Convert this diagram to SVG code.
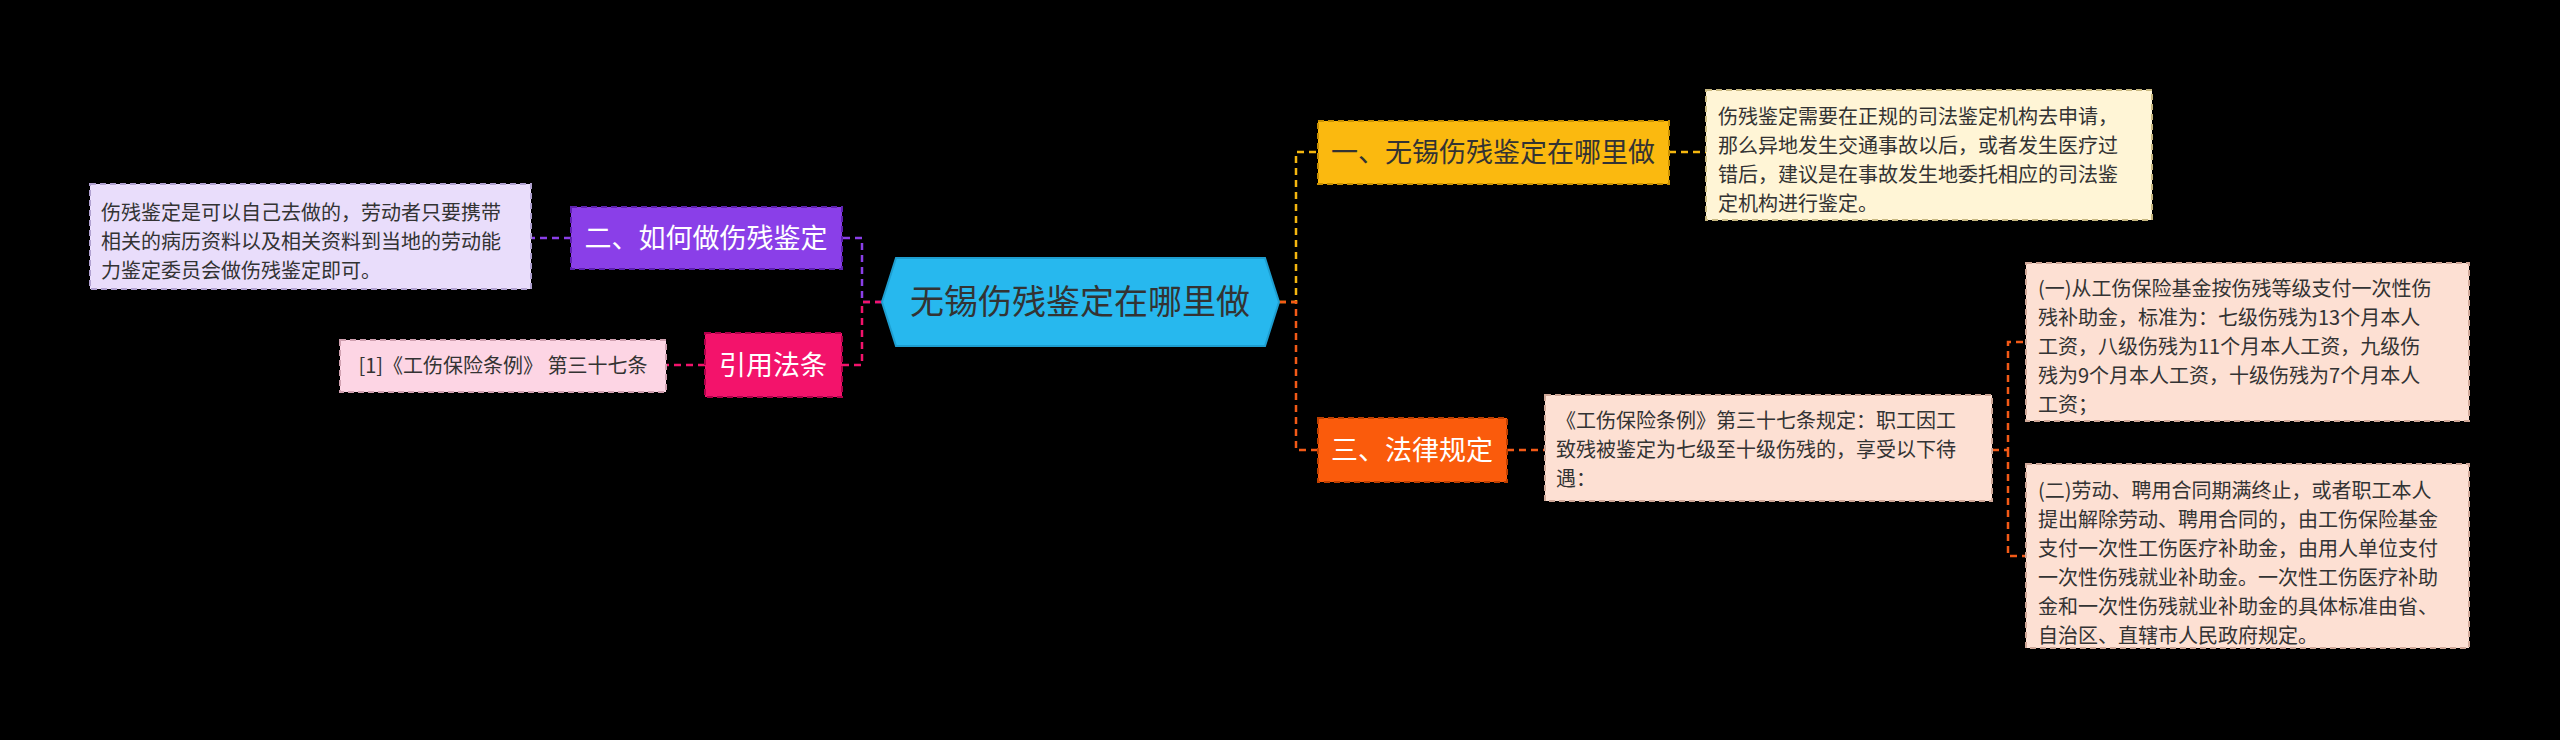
<svg xmlns="http://www.w3.org/2000/svg" width="2560" height="740" viewBox="0 0 2560 740">
<style>
text{font-family:"Noto Sans CJK SC","Liberation Sans",sans-serif}
.t{font-size:20px;fill:#333}
.b{font-size:27px;fill:#fff}
.c{fill:none;stroke-width:2.5;stroke-dasharray:7 5}
.bx{stroke-width:2;stroke-dasharray:6 4}
</style>
<rect width="2560" height="740" fill="#000"/>
<g id="connectors">
<path class="c" stroke="#F5B70F" d="M1279 302H1296V152H1318"/>
<path class="c" stroke="#F35A17" d="M1279 302H1296V450H1318"/>
<path class="c" stroke="#F5B70F" d="M1669 152H1706"/>
<path class="c" stroke="#F35A17" d="M1507 450H1545"/>
<path class="c" stroke="#F35A17" d="M1992 450H2008V342H2026M2008 450V556H2026"/>
<path class="c" stroke="#8A3FE8" d="M882 302H862V238H842"/>
<path class="c" stroke="#F3136B" d="M882 302H862V365H842"/>
<path class="c" stroke="#8A3FE8" d="M571 238H531"/>
<path class="c" stroke="#F3136B" d="M705 365H666"/>
</g>
<g id="center">
<polygon points="896,258 1265,258 1279,302 1265,346 896,346 882,302" fill="#27B8EE" stroke="#1E9ED0" stroke-width="2"/>
<text x="1080" y="314" font-size="34" fill="#333" text-anchor="middle">无锡伤残鉴定在哪里做</text>
</g>
<g id="n1">
<rect class="bx" x="1318" y="121" width="351" height="63" fill="#FBB90F" stroke="#C99000"/>
<text class="b" x="1493" y="162" text-anchor="middle" fill="#333" style="fill:#333">一、无锡伤残鉴定在哪里做</text>
</g>
<g id="n1t">
<rect class="bx" x="1706" y="90" width="446" height="130" fill="#FFF5D6" stroke="#C8B880"/>
<text class="t" x="1718" y="124">伤残鉴定需要在正规的司法鉴定机构去申请，</text>
<text class="t" x="1718" y="153">那么异地发生交通事故以后，或者发生医疗过</text>
<text class="t" x="1718" y="182">错后，建议是在事故发生地委托相应的司法鉴</text>
<text class="t" x="1718" y="211">定机构进行鉴定。</text>
</g>
<g id="n3">
<rect class="bx" x="1318" y="418" width="189" height="64" fill="#FA5B0C" stroke="#C04000"/>
<text class="b" x="1412" y="460" text-anchor="middle">三、法律规定</text>
</g>
<g id="n3t">
<rect class="bx" x="1545" y="395" width="447" height="106" fill="#FDE0D3" stroke="#D0A898"/>
<text class="t" x="1556" y="428">《工伤保险条例》第三十七条规定：职工因工</text>
<text class="t" x="1556" y="457">致残被鉴定为七级至十级伤残的，享受以下待</text>
<text class="t" x="1556" y="486">遇：</text>
</g>
<g id="n31">
<rect class="bx" x="2026" y="263" width="443" height="158" fill="#FDE0D3" stroke="#D0A898"/>
<text class="t" x="2038" y="296">(一)从工伤保险基金按伤残等级支付一次性伤</text>
<text class="t" x="2038" y="325">残补助金，标准为：七级伤残为13个月本人</text>
<text class="t" x="2038" y="354">工资，八级伤残为11个月本人工资，九级伤</text>
<text class="t" x="2038" y="383">残为9个月本人工资，十级伤残为7个月本人</text>
<text class="t" x="2038" y="412">工资；</text>
</g>
<g id="n32">
<rect class="bx" x="2026" y="464" width="443" height="184" fill="#FDE0D3" stroke="#D0A898"/>
<text class="t" x="2038" y="498">(二)劳动、聘用合同期满终止，或者职工本人</text>
<text class="t" x="2038" y="527">提出解除劳动、聘用合同的，由工伤保险基金</text>
<text class="t" x="2038" y="556">支付一次性工伤医疗补助金，由用人单位支付</text>
<text class="t" x="2038" y="585">一次性伤残就业补助金。一次性工伤医疗补助</text>
<text class="t" x="2038" y="614">金和一次性伤残就业补助金的具体标准由省、</text>
<text class="t" x="2038" y="643">自治区、直辖市人民政府规定。</text>
</g>
<g id="n2">
<rect class="bx" x="571" y="207" width="271" height="62" fill="#8A3FE8" stroke="#5E20B0"/>
<text class="b" x="706" y="248" text-anchor="middle">二、如何做伤残鉴定</text>
</g>
<g id="n2t">
<rect class="bx" x="90" y="184" width="441" height="105" fill="#E9DDFB" stroke="#B0A0D0"/>
<text class="t" x="101" y="220">伤残鉴定是可以自己去做的，劳动者只要携带</text>
<text class="t" x="101" y="249">相关的病历资料以及相关资料到当地的劳动能</text>
<text class="t" x="101" y="278">力鉴定委员会做伤残鉴定即可。</text>
</g>
<g id="n4">
<rect class="bx" x="705" y="333" width="137" height="64" fill="#F3136B" stroke="#B0004A"/>
<text class="b" x="773" y="375" text-anchor="middle">引用法条</text>
</g>
<g id="n4t">
<rect class="bx" x="340" y="340" width="326" height="52" fill="#FDD5E4" stroke="#D0A0B0"/>
<text class="t" x="503" y="373" text-anchor="middle">[1]《工伤保险条例》 第三十七条</text>
</g>
</svg>
